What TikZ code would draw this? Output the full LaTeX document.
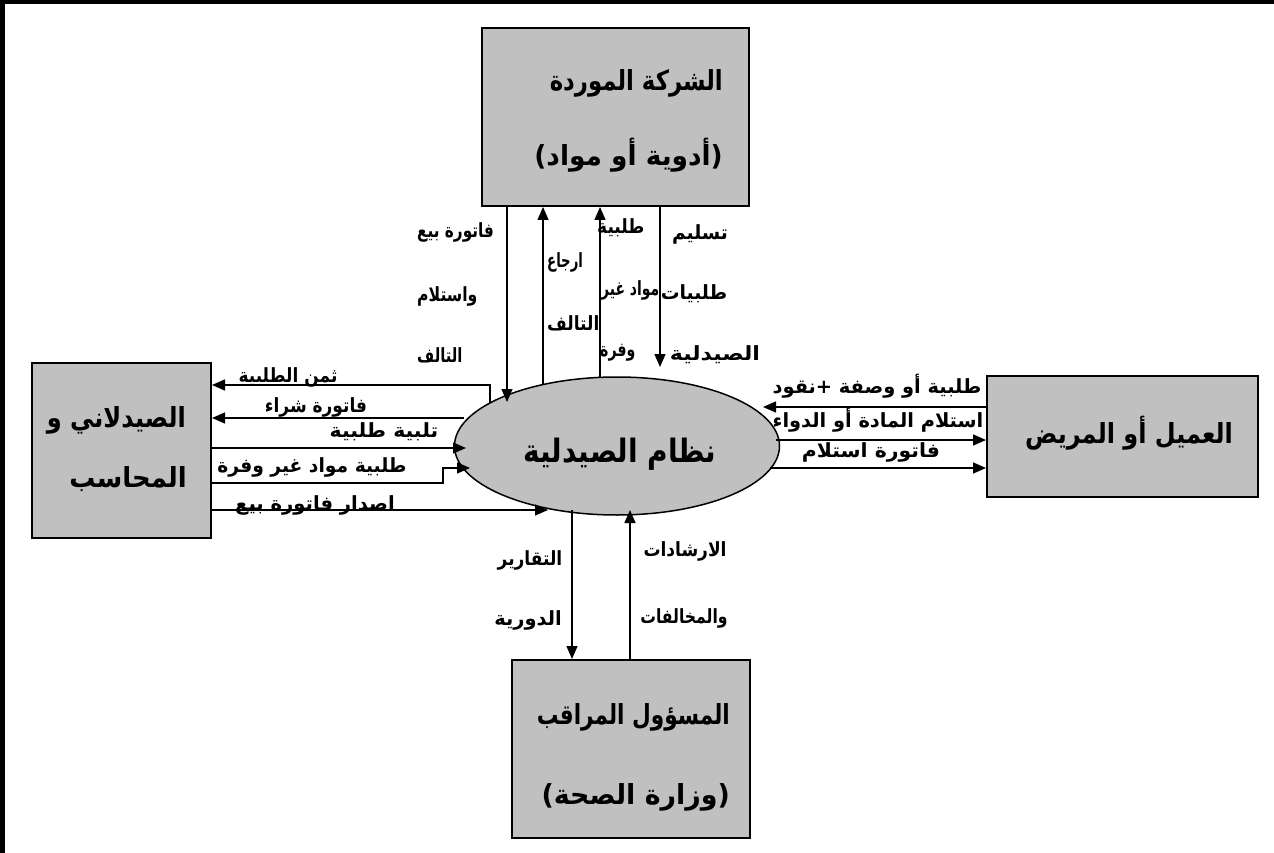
\documentclass[tikz,border=0pt]{standalone}
\usepackage{graphicx}
\usepackage{fontspec}
\newfontfamily\arfont[Script=Arabic]{DejaVu Sans}
\TeXXeTstate=1
\usetikzlibrary{shapes.geometric,arrows.meta}
\definecolor{boxgray}{RGB}{192,192,192}
\newcommand{\AR}[2][1]{\scalebox{#1}[1.15]{\beginR #2\endR}}
\begin{document}
\begin{tikzpicture}[x=1pt,y=-1pt,
  box/.style={draw=black, line width=2pt, fill=boxgray, inner sep=0pt},
  bigtxt/.style={font=\arfont\bfseries\fontsize{24}{28}\selectfont, inner sep=0pt},
  systxt/.style={font=\arfont\bfseries\fontsize{28}{32}\selectfont, inner sep=0pt},
  lbl/.style={font=\arfont\bfseries\fontsize{17}{20}\selectfont, inner sep=0pt},
  flow/.style={line width=1.4pt, -{Triangle[length=13pt,width=11pt]}}
]
\useasboundingbox (0,0) rectangle (1274,853);
% frame
\draw[line width=4pt] (0,2) -- (1274,2);
\draw[line width=5pt] (2.5,0) -- (2.5,853);

% boxes
\node[box, minimum width=267pt, minimum height=178pt] (sup) at (615.5,117) {};
\node[box, minimum width=179pt, minimum height=175pt] (pha) at (121.5,450.5) {};
\node[box, minimum width=271pt, minimum height=121pt] (cus) at (1122.5,436.5) {};
\node[box, minimum width=238pt, minimum height=178pt] (reg) at (631,749) {};
\node[ellipse, draw=black, line width=1.5pt, fill=boxgray, inner sep=0pt,
      minimum width=325pt, minimum height=138pt] (sys) at (617,446) {};

% box texts
\node[bigtxt, anchor=east] (sup1) at (723,83) {\AR[0.95]{الشركة الموردة}};
\node[bigtxt, anchor=east] (sup2) at (723,155) {\AR[1.1]{(أدوية أو مواد)}};
\node[bigtxt, anchor=east] (pha1) at (186,420) {\AR{الصيدلاني و}};
\node[bigtxt, anchor=east] (pha2) at (187,479) {\AR[1.08]{المحاسب}};
\node[bigtxt] (cus1) at (1129,433) {\AR{العميل أو المريض}};
\node[bigtxt, anchor=east] (reg1) at (730,717) {\AR[0.9]{المسؤول المراقب}};
\node[bigtxt, anchor=east] (reg2) at (730,797) {\AR[1.12]{(وزارة الصحة)}};
\node[systxt] (sys1) at (620,454) {\AR{نظام الصيدلية}};

% top connectors
\coordinate (t1) at (507,402);
\coordinate (t2) at (543,384);
\coordinate (t3) at (600,377);
\coordinate (t4) at (660,367);
\draw[flow] (sup.south -| t1) -- (t1);
\draw[flow] (t2) -- (sup.south -| t2);
\draw[flow] (t3) -- (sup.south -| t3);
\draw[flow] (sup.south -| t4) -- (t4);

% left connectors
\coordinate (l1) at (490,403);
\coordinate (l1b) at (490,385);
\coordinate (l2) at (464,418);
\coordinate (l3) at (466,448);
\coordinate (l4a) at (443,483);
\coordinate (l4) at (470,468);
\coordinate (l5) at (548,510);
\draw[flow] (l1) -- (l1b) -- (pha.east |- l1b);
\draw[flow] (l2) -- (pha.east |- l2);
\draw[flow] (pha.east |- l3) -- (l3);
\draw[flow] (pha.east |- l4a) -- (l4a) -- (l4a |- l4) -- (l4);
\draw[flow] (pha.east |- l5) -- (l5);

% right connectors
\coordinate (r1) at (763,407);
\coordinate (r2) at (776,440);
\coordinate (r3) at (770,468);
\draw[flow] (cus.west |- r1) -- (r1);
\draw[flow] (r2) -- (cus.west |- r2);
\draw[flow] (r3) -- (cus.west |- r3);

% bottom connectors
\coordinate (b1) at (572,510);
\coordinate (b2) at (630,510);
\draw[flow] (b1) -- (reg.north -| b1);
\draw[flow] (reg.north -| b2) -- (b2);

% labels top
\node[lbl, anchor=west] (lt1a) at (417,232) {\AR[0.9]{فاتورة بيع}};
\node[lbl, anchor=west] (lt1b) at (417,296) {\AR[0.92]{واستلام}};
\node[lbl, anchor=west] (lt1c) at (417,355) {\AR[0.87]{التالف}};
\node[lbl, anchor=west] (lt2a) at (547,262) {\AR[0.78]{ارجاع}};
\node[lbl, anchor=west] (lt2b) at (547,323) {\AR{التالف}};
\node[lbl, anchor=west] (lt3a) at (597,228) {\AR{طلبية}};
\node[lbl, anchor=west] (lt3b) at (601,290) {\AR[0.82]{مواد غير}};
\node[lbl, anchor=west] (lt3c) at (600,353) {\AR[0.83]{وفرة}};
\node[lbl] (lt4a) at (700,234) {\AR[1.1]{تسليم}};
\node[lbl] (lt4b) at (694,294) {\AR[1.1]{طلبيات}};
\node[lbl] (lt4c) at (715,355) {\AR[1.3]{الصيدلية}};

% labels left
\node[lbl] (ll1) at (288,377) {\AR{ثمن الطلبية}};
\node[lbl] (ll2) at (316,407) {\AR{فاتورة شراء}};
\node[lbl] (ll3) at (384,432) {\AR[1.2]{تلبية طلبية}};
\node[lbl] (ll4) at (312,467) {\AR[1.1]{طلبية مواد غير وفرة}};
\node[lbl] (ll5) at (315,505) {\AR[1.15]{اصدار فاتورة بيع}};

% labels right
\node[lbl] (lr1) at (877,386) {\AR[1.14]{طلبية أو وصفة +نقود}};
\node[lbl] (lr2) at (878,420) {\AR[1.14]{استلام المادة أو الدواء}};
\node[lbl] (lr3) at (871,452) {\AR[1.2]{فاتورة استلام}};

% labels bottom
\node[lbl] (lb1a) at (530,560) {\AR{التقارير}};
\node[lbl] (lb1b) at (528,620) {\AR[1.14]{الدورية}};
\node[lbl] (lb2a) at (685,551) {\AR{الارشادات}};
\node[lbl] (lb2b) at (684,618) {\AR[0.92]{والمخالفات}};
\end{tikzpicture}
\end{document}
